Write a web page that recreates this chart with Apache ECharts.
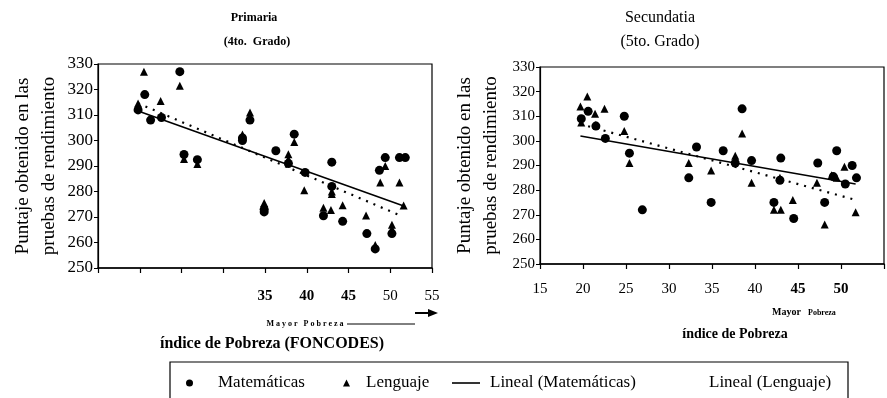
<!DOCTYPE html>
<html>
<head>
<meta charset="utf-8">
<script src="https://cdn.jsdelivr.net/npm/echarts@6/dist/echarts.min.js"></script>
<style>
  html, body { margin: 0; padding: 0; background: #fff; }
  #chart { width: 887px; height: 398px; }
</style>
</head>
<body>
<div id="chart"></div>
<script>
// Primaria (4to. Grado): [índice de pobreza, puntaje]
const primariaMatematicas = [
  [19.8, 312], [20.6, 318], [21.3, 308], [22.6, 309], [24.8, 327], [25.3, 294.5],
  [26.9, 292.5], [32.3, 300], [32.3, 301], [33.2, 308], [34.9, 273], [34.9, 272],
  [36.3, 296], [37.8, 291], [38.5, 302.5], [39.8, 287.5], [42.0, 270.5], [43.0, 291.5],
  [43.0, 282], [44.3, 268.3], [47.2, 263.5], [48.2, 257.5], [48.7, 288.3], [49.4, 293.3],
  [50.2, 263.5], [51.1, 293.3], [51.8, 293.3]
];
const primariaLenguaje = [
  [19.8, 314.5], [19.8, 313], [20.5, 327], [22.5, 315.5], [24.8, 321.5], [25.3, 292.7],
  [26.9, 290.8], [32.3, 302.4], [33.2, 311], [33.2, 309], [34.9, 275.5], [37.8, 294.6],
  [37.8, 292.6], [38.5, 299.4], [39.7, 280.5], [42.0, 273.6], [42.9, 272.7], [43.0, 280],
  [43.0, 279], [44.3, 274.6], [47.1, 270.6], [48.2, 259], [48.8, 283.5], [49.4, 290],
  [50.2, 267], [50.2, 265.3], [51.1, 283.5], [51.6, 274.5]
];
const primariaLinealMat = [[19.8, 311.6], [51.7, 274.2]];
const primariaLinealLen = [[19.8, 314.6], [51.2, 270.6]];

// Secundaria (5to. Grado): [índice de pobreza, puntaje]
const secundariaMatematicas = [
  [19.8, 309], [20.6, 312], [21.5, 306], [22.6, 301], [24.8, 310], [25.4, 295],
  [26.9, 272], [32.3, 285], [33.2, 297.5], [34.9, 275], [36.3, 296], [37.7, 291],
  [38.5, 313], [39.6, 292], [42.2, 275], [42.9, 284], [43.0, 293], [44.5, 268.5],
  [47.3, 291], [48.1, 275], [49.1, 285.5], [49.5, 296], [50.5, 282.5], [51.3, 290],
  [51.8, 285]
];
const secundariaLenguaje = [
  [19.7, 314], [19.8, 307.5], [20.5, 318], [21.4, 311], [21.5, 306.5], [22.5, 313],
  [24.8, 304], [25.4, 291], [32.3, 291], [34.9, 288], [37.7, 294], [37.7, 292],
  [38.5, 303], [39.6, 283], [42.2, 272], [43.0, 272], [42.9, 285], [44.4, 276],
  [47.2, 283], [48.1, 266], [48.9, 286], [49.5, 285], [50.4, 289.5], [51.7, 271]
];
const secundariaLinealMat = [[19.7, 302], [51.7, 282.5]];
const secundariaLinealLen = [[19.7, 306.8], [51.7, 276]];

// Axis ticks
const puntajeMin = 250, puntajeMax = 330, puntajeStep = 10;
const pobrezaMin = 15, pobrezaMax = 55, pobrezaStep = 5;
const primariaXLabels = [35, 40, 45, 50, 55];
const primariaXBold = [35, 40, 45];
const secundariaXLabels = [15, 20, 25, 30, 35, 40, 45, 50];
const secundariaXBold = [45, 50];

const SERIF = '"Liberation Serif", "DejaVu Serif", serif';
const INK = '#000';

const chart = echarts.init(document.getElementById('chart'), null, { renderer: 'canvas' });

function xLabelFormatter(shown, bold) {
  return function (v) {
    if (shown.indexOf(v) < 0) return '';
    return bold.indexOf(v) >= 0 ? '{b|' + v + '}' : '{n|' + v + '}';
  };
}

function xAxis(gridIndex, shown, bold, margin, size) {
  return {
    type: 'value', gridIndex: gridIndex, min: pobrezaMin, max: pobrezaMax, interval: pobrezaStep,
    axisLine: { show: true, onZero: false, lineStyle: { color: INK, width: 1.5 } },
    axisTick: { show: true, inside: false, length: 5, lineStyle: { color: INK, width: 1.2 } },
    splitLine: { show: false },
    axisLabel: {
      margin: margin, showMinLabel: true, showMaxLabel: true,
      formatter: xLabelFormatter(shown, bold),
      rich: {
        b: { fontFamily: SERIF, fontSize: size, fontWeight: 'bold', color: INK },
        n: { fontFamily: SERIF, fontSize: size, color: INK }
      }
    }
  };
}

function yAxis(gridIndex, nameGap, labelSize) {
  return {
    type: 'value', gridIndex: gridIndex, min: puntajeMin, max: puntajeMax, interval: puntajeStep,
    name: 'Puntaje obtenido en las\npruebas de rendimiento',
    nameLocation: 'middle', nameRotate: 90, nameGap: nameGap,
    nameTextStyle: { fontFamily: SERIF, fontSize: 19, color: INK, lineHeight: 26 },
    axisLine: { show: true, lineStyle: { color: INK, width: 1.2 } },
    axisTick: { show: true, inside: false, length: 4, lineStyle: { color: INK } },
    splitLine: { show: false },
    axisLabel: { margin: 5, fontFamily: SERIF, fontSize: labelSize, color: INK }
  };
}

function scatter(name, data, idx, symbol, size) {
  return {
    name: name, type: 'scatter', xAxisIndex: idx, yAxisIndex: idx, data: data,
    symbol: symbol, symbolSize: size, itemStyle: { color: INK, opacity: 1 }, silent: true, z: 3
  };
}

function trend(name, data, idx, solid) {
  return {
    name: name, type: 'line', xAxisIndex: idx, yAxisIndex: idx, data: data,
    symbol: 'none', silent: true, z: 4, itemStyle: { color: INK },
    lineStyle: solid
      ? { color: INK, width: 1.6, type: 'solid' }
      : { color: INK, width: 2.2, type: [2, 6], cap: 'butt' }
  };
}

// one legend block per entry so each sits at its own spot in the framed key
const legendText = { fontFamily: SERIF, fontSize: 17, color: INK };
function legendItem(name, icon, left, w, h, gapExtra, itemStyle) {
  return {
    data: [{ name: name, icon: icon, itemStyle: itemStyle }],
    left: left, top: 374.5, padding: 0, itemWidth: w, itemHeight: h,
    selectedMode: false,
    textStyle: Object.assign({ padding: [0, 0, 0, gapExtra] }, legendText)
  };
}

const option = {
  backgroundColor: '#fff',
  animation: false,
  grid: [
    { left: 98, top: 64, width: 334, height: 204, show: true, borderColor: INK, borderWidth: 1.2 },
    { left: 540, top: 67, width: 356, height: 197, show: true, borderColor: INK, borderWidth: 1.2 }
  ],
  xAxis: [
    xAxis(0, primariaXLabels, primariaXBold, 21, 15),
    xAxis(1, secundariaXLabels, secundariaXBold, 18, 15)
  ],
  yAxis: [yAxis(0, 36, 17), yAxis(1, 36, 15)],
  legend: [
    legendItem('Matemáticas', 'circle', 186, 7, 7, 20, { color: INK }),
    legendItem('Lenguaje', 'triangle', 343, 7, 7, 11, { color: INK }),
    legendItem('Lineal (Matemáticas)', 'rect', 452, 28, 1.6, 5, { color: INK }),
    legendItem('Lineal (Lenguaje)', 'rect', 703, 1, 7, 0, { opacity: 0 })
  ],
  series: [
    scatter('Matemáticas', primariaMatematicas, 0, 'circle', 9),
    scatter('Lenguaje', primariaLenguaje, 0, 'triangle', 8),
    trend('Lineal (Matemáticas)', primariaLinealMat, 0, true),
    trend('Lineal (Lenguaje)', primariaLinealLen, 0, false),
    scatter('Matemáticas', secundariaMatematicas, 1, 'circle', 9),
    scatter('Lenguaje', secundariaLenguaje, 1, 'triangle', 8),
    trend('Lineal (Matemáticas)', secundariaLinealMat, 1, true),
    trend('Lineal (Lenguaje)', secundariaLinealLen, 1, false)
  ],
  graphic: [
    // panel titles
    { type: 'text', x: 254, y: 18, style: { text: 'Primaria', fontFamily: SERIF, fontSize: 12, fontWeight: 'bold', fill: INK, align: 'center', verticalAlign: 'middle' } },
    { type: 'text', x: 257, y: 42, style: { text: '(4to.  Grado)', fontFamily: SERIF, fontSize: 12, fontWeight: 'bold', fill: INK, align: 'center', verticalAlign: 'middle' } },
    { type: 'text', x: 660, y: 18, style: { text: 'Secundatia', fontFamily: SERIF, fontSize: 16, fill: INK, align: 'center', verticalAlign: 'middle' } },
    { type: 'text', x: 660, y: 42, style: { text: '(5to. Grado)', fontFamily: SERIF, fontSize: 16, fill: INK, align: 'center', verticalAlign: 'middle' } },
    // x-axis titles
    { type: 'text', x: 272, y: 344, style: { text: 'índice de Pobreza (FONCODES)', fontFamily: SERIF, fontSize: 16, fontWeight: 'bold', fill: INK, align: 'center', verticalAlign: 'middle' } },
    { type: 'text', x: 735, y: 334, style: { text: 'índice de Pobreza', fontFamily: SERIF, fontSize: 14, fontWeight: 'bold', fill: INK, align: 'center', verticalAlign: 'middle' } },
    // "Mayor Pobreza" direction markers
    { type: 'text', x: 305, y: 324, style: { text: 'M a y o r   P o b r e z a', fontFamily: SERIF, fontSize: 8, fontWeight: 'bold', fill: INK, align: 'center', verticalAlign: 'middle' } },
    { type: 'line', shape: { x1: 347, y1: 324, x2: 415, y2: 324 }, style: { stroke: INK, lineWidth: 1 } },
    { type: 'line', shape: { x1: 415, y1: 313, x2: 430, y2: 313 }, style: { stroke: INK, lineWidth: 2 } },
    { type: 'polygon', shape: { points: [[428, 309], [438, 313], [428, 317]] }, style: { fill: INK } },
    { type: 'text', x: 772, y: 312, style: { text: 'Mayor', fontFamily: SERIF, fontSize: 10, fontWeight: 'bold', fill: INK, verticalAlign: 'middle' } },
    { type: 'text', x: 808, y: 313, style: { text: 'Pobreza', fontFamily: SERIF, fontSize: 8, fontWeight: 'bold', fill: INK, verticalAlign: 'middle' } },
    // legend frame
    { type: 'polyline', shape: { points: [[170, 398], [170, 362], [848, 362], [848, 398]] }, style: { stroke: INK, lineWidth: 1.2, fill: null } }
  ]
};

chart.setOption(option);
</script>
</body>
</html>
